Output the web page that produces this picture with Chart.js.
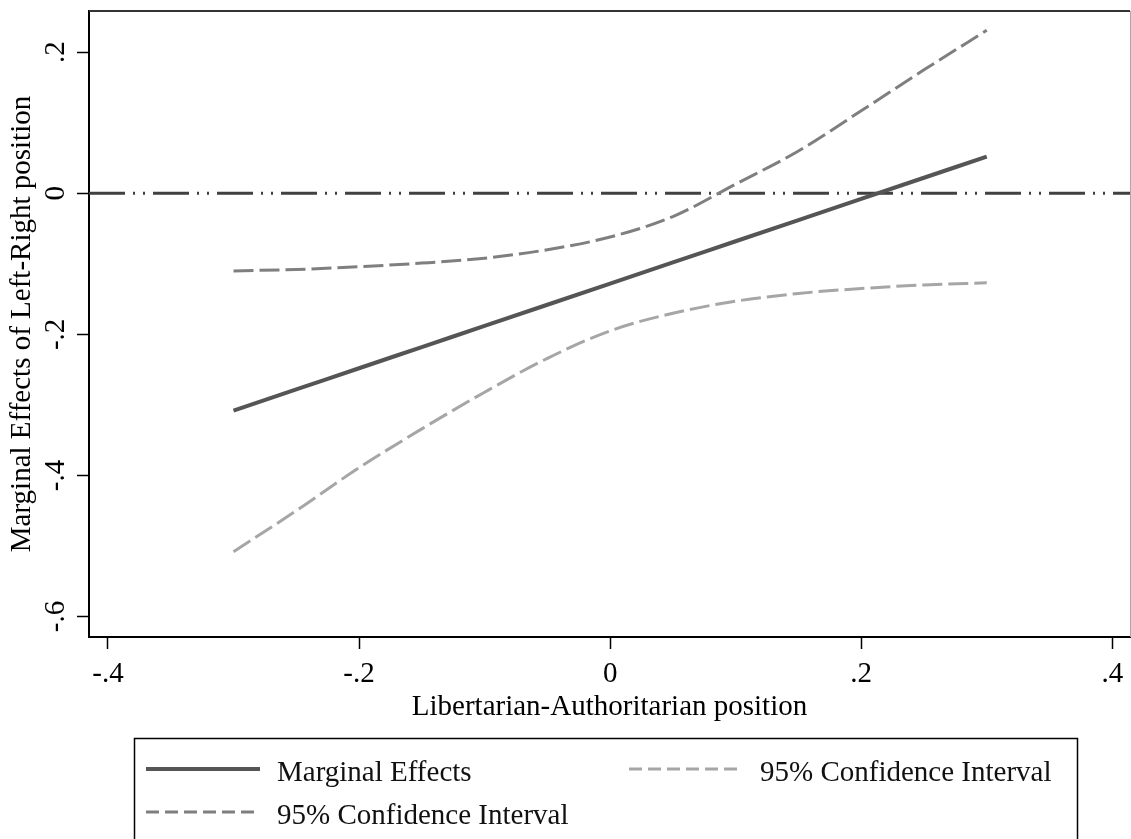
<!DOCTYPE html>
<html><head><meta charset="utf-8">
<script src="https://cdn.jsdelivr.net/npm/chart.js@4.4.0/dist/chart.umd.min.js"></script>
<style>html,body{margin:0;padding:0;background:#fff;} canvas{display:block;}</style>
</head><body>
<canvas id="c" width="1131" height="839"></canvas>
<script>
// ---- data ----
const xValues = [-0.30,-0.25,-0.20,-0.15,-0.10,-0.05,0.00,0.05,0.10,0.15,0.20,0.25,0.30];
const marginalEffects = [-0.308,-0.278,-0.248,-0.218,-0.188,-0.158,-0.128,-0.098,-0.068,-0.038,-0.008,0.022,0.052];
const lowerCI = [-0.508,-0.450,-0.389,-0.334,-0.282,-0.234,-0.195,-0.170,-0.153,-0.142,-0.135,-0.130,-0.127];
const upperCI = [-0.110,-0.108,-0.104,-0.099,-0.092,-0.080,-0.062,-0.033,0.013,0.060,0.117,0.175,0.231];
const xTickValues = [-0.4,-0.2,0,0.2,0.4];
const xTickLabels = ['-.4','-.2','0','.2','.4'];
const yTickValues = [-0.6,-0.4,-0.2,0,0.2];
const yTickLabels = ['-.6','-.4','-.2','0','.2'];
const referenceLineY = 0;
const seriesLabels = ['Marginal Effects','95% Confidence Interval','95% Confidence Interval'];
const xTitle = 'Libertarian-Authoritarian position';
const yTitle = 'Marginal Effects of Left-Right position';

// ---- styles ----
const FONT = "'Liberation Serif', 'Times New Roman', serif";
const toPts = (ys) => xValues.map((x, i) => ({x: x, y: ys[i]}));

const datasets = [
  {label: seriesLabels[0], data: toPts(marginalEffects), borderColor: '#555555', borderWidth: 4, borderDash: [], legendDash: []},
  {label: seriesLabels[1], data: toPts(lowerCI), borderColor: '#a6a6a6', borderWidth: 3, borderDash: [20, 6], legendDash: [13, 6]},
  {label: seriesLabels[2], data: toPts(upperCI), borderColor: '#7f7f7f', borderWidth: 3, borderDash: [20, 6], legendDash: [13, 6]}
].map(d => Object.assign(d, {pointRadius: 0, fill: false, cubicInterpolationMode: 'monotone', borderCapStyle: 'butt'}));

const refLinePlugin = {
  id: 'refLine',
  beforeDatasetsDraw(chart) {
    const {ctx, chartArea} = chart;
    const y = chart.scales.y.getPixelForValue(referenceLineY);
    ctx.save();
    ctx.strokeStyle = '#404040';
    ctx.lineWidth = 3;
    ctx.setLineDash([36, 8, 2, 8, 2, 8]);
    ctx.beginPath();
    ctx.moveTo(chartArea.left, y);
    ctx.lineTo(chartArea.right, y);
    ctx.stroke();
    ctx.restore();
  }
};

const framePlugin = {
  id: 'frame',
  afterDraw(chart) {
    const {ctx, chartArea} = chart;
    ctx.save();
    ctx.strokeStyle = '#333333';
    ctx.lineWidth = 2;
    ctx.beginPath();
    ctx.moveTo(chartArea.left, chartArea.top);
    ctx.lineTo(chartArea.right, chartArea.top);
    ctx.stroke();
    ctx.strokeStyle = '#aaaaaa';
    ctx.lineWidth = 1;
    ctx.beginPath();
    ctx.moveTo(chartArea.right + 0.5, chartArea.top);
    ctx.lineTo(chartArea.right + 0.5, chartArea.bottom);
    ctx.stroke();
    ctx.restore();
  }
};

const boxLegendPlugin = {
  id: 'boxLegend',
  afterDraw(chart) {
    const {ctx} = chart;
    ctx.save();
    ctx.strokeStyle = '#000';
    ctx.lineWidth = 1.5;
    ctx.strokeRect(134.5, 738.5, 943, 130);
    const colX = [146, 629];
    const rowY = [769, 812];
    chart.data.datasets.forEach((ds, i) => {
      const x = colX[i % 2];
      const y = rowY[Math.floor(i / 2)];
      ctx.strokeStyle = ds.borderColor;
      ctx.lineWidth = ds.borderWidth;
      ctx.setLineDash(ds.legendDash);
      ctx.beginPath();
      ctx.moveTo(x, y);
      ctx.lineTo(x + 114, y);
      ctx.stroke();
      ctx.setLineDash([]);
      ctx.fillStyle = '#111';
      ctx.font = "29px " + FONT;
      ctx.textBaseline = 'middle';
      ctx.textAlign = 'left';
      ctx.fillText(ds.label, x + 131, y + 4);
    });
    ctx.restore();
  }
};

const tickFont = {family: FONT, size: 29};

new Chart(document.getElementById('c'), {
  type: 'line',
  data: {datasets: datasets},
  plugins: [refLinePlugin, framePlugin, boxLegendPlugin],
  options: {
    responsive: false,
    animation: false,
    devicePixelRatio: 1,
    layout: {padding: {left: 0, top: 11, right: 1, bottom: 114}},
    plugins: {legend: {display: false}, tooltip: {enabled: false}},
    scales: {
      x: {
        type: 'linear',
        min: -0.4151, max: 0.4141,
        afterBuildTicks: (s) => { s.ticks = xTickValues.map(v => ({value: v})); },
        afterFit: (s) => { s.height = 88; s.paddingLeft = 0; s.paddingRight = 0; },
        ticks: {autoSkip: false, maxRotation: 0, minRotation: 0, padding: 8, color: '#000', font: tickFont,
          callback: (v, i) => xTickLabels[i]},
        grid: {display: true, drawOnChartArea: false, drawTicks: true, tickLength: 12, tickWidth: 1.5, tickColor: '#000'},
        border: {display: true, color: '#000', width: 2},
        title: {display: true, text: xTitle, color: '#000', font: tickFont, padding: {top: 0, bottom: 0}}
      },
      y: {
        type: 'linear',
        min: -0.629, max: 0.2584,
        afterBuildTicks: (s) => { s.ticks = yTickValues.map(v => ({value: v})); },
        afterFit: (s) => { s.width = 89; s.paddingTop = 0; s.paddingBottom = 0; },
        ticks: {autoSkip: false, minRotation: 90, maxRotation: 90, crossAlign: 'center', padding: 5, color: '#000', font: tickFont,
          callback: (v, i) => yTickLabels[i]},
        grid: {display: true, drawOnChartArea: false, drawTicks: true, tickLength: 12, tickWidth: 1.5, tickColor: '#000'},
        border: {display: true, color: '#000', width: 2},
        title: {display: true, text: yTitle, color: '#000', font: tickFont, padding: {top: 5, bottom: 0}}
      }
    }
  }
});
</script>
</body></html>
